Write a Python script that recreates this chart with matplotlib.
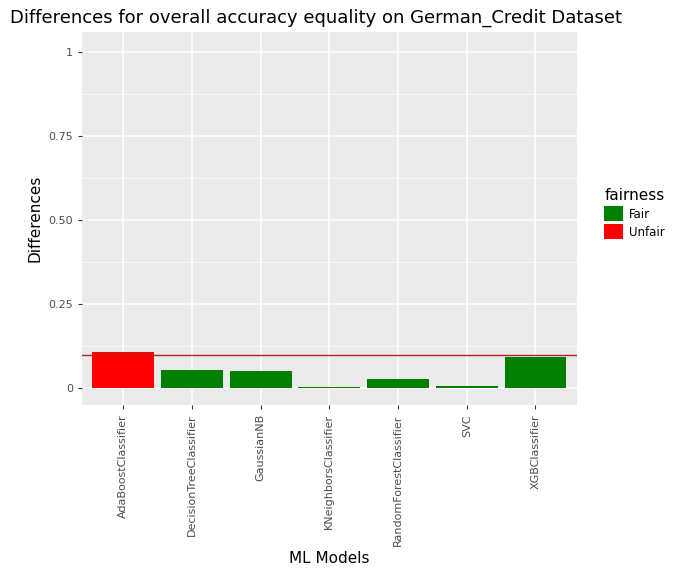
import matplotlib
matplotlib.use("Agg")
import matplotlib.pyplot as plt
from matplotlib.patches import Patch

models = ["AdaBoostClassifier", "DecisionTreeClassifier", "GaussianNB", "KNeighborsClassifier",
          "RandomForestClassifier", "SVC", "XGBClassifier"]
diffs = [0.107, 0.054, 0.051, 0.004, 0.027, 0.006, 0.092]
fairness = ["Unfair", "Fair", "Fair", "Fair", "Fair", "Fair", "Fair"]
threshold = 0.1
colours = {"Fair": "#008000", "Unfair": "#FF0000"}

fig = plt.figure(figsize=(6.94, 5.88), dpi=100)
ax = fig.add_axes([0.118, 0.311, 0.713, 0.635])
ax.set_facecolor("#EBEBEB")
x = range(len(models))
ax.bar(x, diffs, width=0.9, color=[colours[f] for f in fairness], zorder=3)
ax.axhline(threshold, color="#B22222", lw=1, zorder=4)

ax.set_xlim(-0.6, len(models) - 0.4)
ax.set_ylim(-0.05, 1.06)
ax.set_yticks([0, 0.25, 0.5, 0.75, 1])
ax.set_yticklabels(["0", "0.25", "0.50", "0.75", "1"])
ax.set_yticks([0.125, 0.375, 0.625, 0.875], minor=True)
ax.set_xticks(list(x))
ax.set_xticklabels(models, rotation=90)
ax.grid(True, which="major", color="white", lw=1.1, zorder=0)
ax.grid(True, which="minor", axis="y", color="white", lw=0.5, zorder=0)
for s in ax.spines.values():
    s.set_visible(False)
ax.tick_params(which="major", colors="#333333", labelcolor="#4D4D4D", labelsize=8, length=3)
ax.tick_params(which="minor", length=0)

ax.set_xlabel("ML Models", fontsize=11)
ax.set_ylabel("Differences", fontsize=11)
fig.text(0.014, 0.97, "Differences for overall accuracy equality on German_Credit Dataset",
         fontsize=13, va="center")

handles = [Patch(facecolor=colours[k], label=k) for k in ["Fair", "Unfair"]]
leg = fig.legend(handles=handles, title="fairness", loc="upper left",
                 bbox_to_anchor=(0.862, 0.69), frameon=False, fontsize=8.5,
                 title_fontsize=11, handlelength=1.6, handleheight=1.6,
                 handletextpad=0.5, labelspacing=0.25, borderpad=0)
leg._legend_box.align = "left"

fig.savefig("out.png", dpi=100)
